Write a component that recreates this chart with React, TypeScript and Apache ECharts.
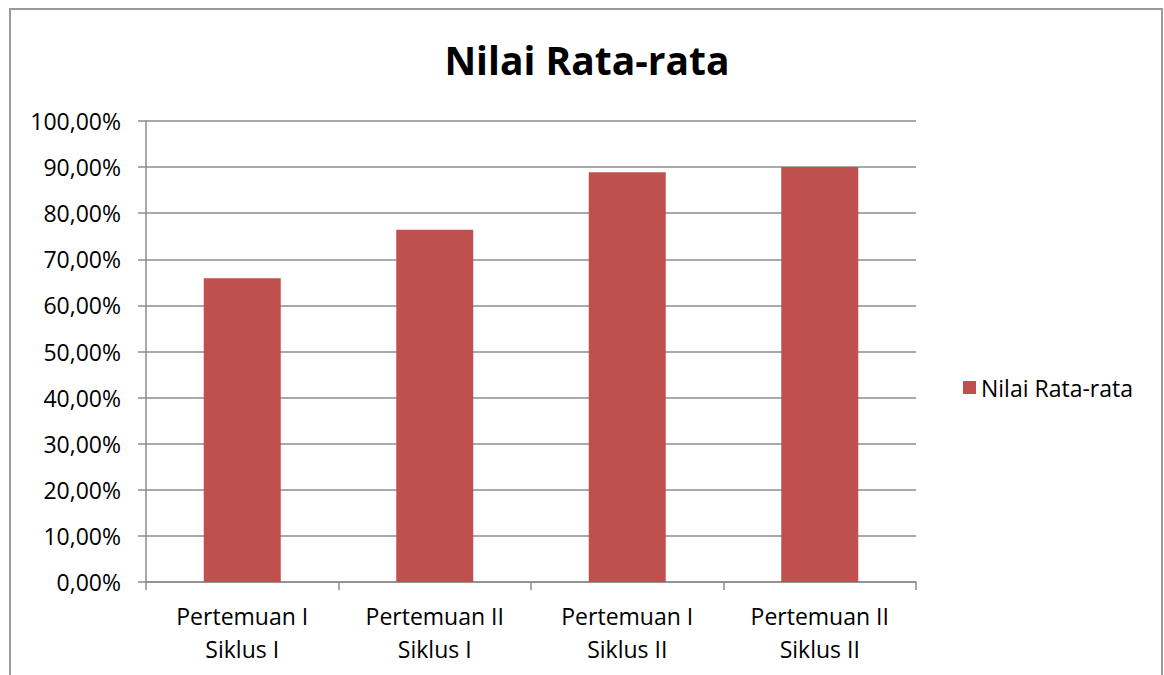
import React, { useEffect, useRef } from "react";
import * as echarts from "echarts";

const categories = [
  "Pertemuan I\nSiklus I",
  "Pertemuan II\nSiklus I",
  "Pertemuan I\nSiklus II",
  "Pertemuan II\nSiklus II",
];
const seriesName = "Nilai Rata-rata";
const values = [65.9, 76.4, 88.9, 90.0];
const title = "Nilai Rata-rata";

const FONT = "'Open Sans', Lato, sans-serif";

export default function App() {
  const ref = useRef<HTMLDivElement>(null);
  useEffect(() => {
    if (!ref.current) return;
    const chart = echarts.init(ref.current, null, { renderer: "svg" });
    chart.setOption({
      animation: false,
      backgroundColor: "#ffffff",
      textStyle: { fontFamily: FONT },
      title: {
        text: title,
        left: 582,
        textAlign: "center",
        top: 35,
        textStyle: { fontSize: 39, fontWeight: "bold", color: "#000", fontFamily: FONT },
      },
      graphic: [
        {
          type: "rect",
          shape: { x: 10, y: 9, width: 1152, height: 700 },
          style: { fill: "none", stroke: "#9a9a9a", lineWidth: 2 },
          silent: true,
        },
      ],
      legend: {
        data: [seriesName],
        left: 958,
        top: 371,
        orient: "vertical",
        itemWidth: 13,
        itemHeight: 13,
        itemGap: 8,
        textStyle: { fontSize: 23, color: "#000", fontFamily: FONT },
        icon: "rect",
      },
      grid: { left: 146, right: 248, top: 121, bottom: 93, containLabel: false },
      xAxis: {
        type: "category",
        data: categories,
        axisLine: { lineStyle: { color: "#8c8c8c", width: 1.5 } },
        axisTick: { show: true, length: 8, lineStyle: { color: "#8c8c8c", width: 1.5 }, alignWithLabel: false },
        axisLabel: { fontSize: 23, color: "#000", lineHeight: 33, margin: 17, fontFamily: FONT },
      },
      yAxis: {
        type: "value",
        min: 0,
        max: 100,
        interval: 10,
        axisLine: { show: true, lineStyle: { color: "#8c8c8c", width: 1.5 } },
        axisTick: { show: true, length: 8, lineStyle: { color: "#8c8c8c", width: 1.5 } },
        splitLine: { lineStyle: { color: "#8c8c8c", width: 1.5 } },
        axisLabel: {
          fontSize: 23,
          color: "#000",
          margin: 25,
          fontFamily: FONT,
          formatter: (v: number) => v.toFixed(2).replace(".", ",") + "%",
        },
      },
      series: [
        {
          name: seriesName,
          type: "bar",
          data: values,
          barWidth: "40%",
          itemStyle: { color: "#C0504D" },
        },
      ],
    });
    return () => chart.dispose();
  }, []);
  return (
    <div
      ref={ref}
      style={{ position: "fixed", left: 0, top: 0, width: 1164, height: 675 }}
    />
  );
}
